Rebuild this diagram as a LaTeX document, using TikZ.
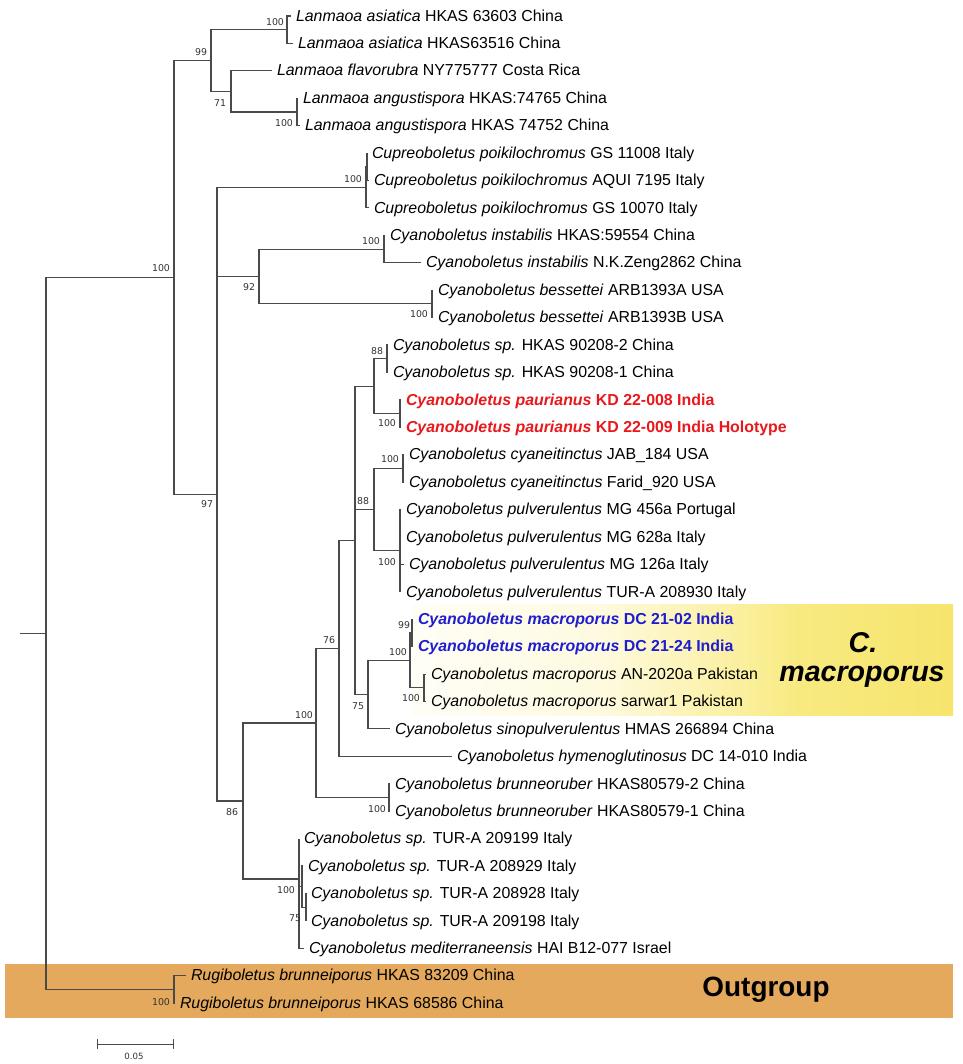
\documentclass[tikz,border=0pt]{standalone}
\usepackage{fontspec}
\setmainfont{Liberation Sans}
\newfontfamily\bsfont{DejaVu Sans}
\definecolor{brc}{HTML}{4A4A4A}
\definecolor{redt}{HTML}{E8181C}
\definecolor{bluet}{HTML}{1E1ECF}
\definecolor{outg}{HTML}{E4A95C}
\definecolor{ya}{HTML}{FFFEF6}
\definecolor{yb}{HTML}{FEFAE0}
\definecolor{yc}{HTML}{FBF1A8}
\definecolor{yd}{HTML}{F8EA80}
\definecolor{ye}{HTML}{F6E46C}
\begin{document}
\begin{tikzpicture}[x=1pt,y=-1pt,
  br/.style={draw=brc, line width=1.1pt},
  leaf/.style={anchor=west, inner xsep=5pt, inner ysep=0pt, outer sep=0pt, text height=10.4pt, text depth=0pt, font=\fontsize{15.9}{18}\selectfont, text=black},
  redleaf/.style={leaf, text=redt, font=\fontsize{15.9}{18}\selectfont\bfseries},
  blueleaf/.style={leaf, text=bluet, font=\fontsize{15.9}{18}\selectfont\bfseries},
  bs/.style={inner sep=0pt, font=\bsfont\fontsize{9.4}{10}\selectfont, text=black!80},
  big/.style={inner sep=0pt, font=\fontsize{28.6}{32}\selectfont\bfseries}
]
\useasboundingbox (0,0) rectangle (962,1064);
\fill[white] (0,0) rectangle (962,1064);
% highlight boxes
\shade[left color=ya, right color=yb] (412,604) rectangle (600,715);
\shade[left color=yb, right color=yc] (599.5,604) rectangle (720,715);
\shade[left color=yc, right color=yd] (719.5,604) rectangle (800,715);
\shade[left color=yd, right color=ye] (799.5,604) rectangle (953,715);
\fill[outg] (5,964) rectangle (953,1018);

% internal nodes
\coordinate (r0) at (20,633.4);
\coordinate (root) at (46,633.4);
\coordinate (I) at (174,277.4);
\coordinate (O) at (174,989.4);
\coordinate (L) at (211,60.6);
\coordinate (A1) at (287,29.7);
\coordinate (F71) at (231,91.4);
\coordinate (G) at (297,112.0);
\coordinate (N97) at (217,494.2);
\coordinate (Cup) at (366,187.4);
\coordinate (CupS) at (367,166.8);
\coordinate (N92) at (259,276.5);
\coordinate (Ins) at (384,249.1);
\coordinate (Bes) at (432,303.9);
\coordinate (N86) at (243,801);
\coordinate (N100b) at (316,723);
\coordinate (Bru) at (389,797.5);
\coordinate (N76) at (339,648.4);
\coordinate (N355) at (355,540.5);
\coordinate (S) at (374,386.2);
\coordinate (Sp) at (387,358.8);
\coordinate (Pau) at (400,413.6);
\coordinate (N88) at (374,509.6);
\coordinate (Cya) at (403,468.4);
\coordinate (Pul) at (400,550.7);
\coordinate (N75) at (368,694.7);
\coordinate (Mac) at (410,660.4);
\coordinate (DC) at (412,633);
\coordinate (Pak) at (424,687.8);
\coordinate (TUR) at (299,879);
\coordinate (T2) at (302,886.6);
\coordinate (T3) at (306,907.2);

% leaves
\node[leaf] (l1) at (291,16) {\textit{Lanmaoa asiatica} HKAS 63603 China};
\node[leaf] (l2) at (293,43.4) {\textit{Lanmaoa asiatica} HKAS63516 China};
\node[leaf] (l3) at (272,70.8) {\textit{Lanmaoa flavorubra} NY775777 Costa Rica};
\node[leaf] (l4) at (298,98.3) {\textit{Lanmaoa angustispora} HKAS:74765 China};
\node[leaf] (l5) at (300,125.7) {\textit{Lanmaoa angustispora} HKAS 74752 China};
\node[leaf] (l6) at (367,153.1) {\textit{Cupreoboletus poikilochromus} GS 11008 Italy};
\node[leaf] (l7) at (369,180.5) {\textit{Cupreoboletus poikilochromus} AQUI 7195 Italy};
\node[leaf] (l8) at (369,207.9) {\textit{Cupreoboletus poikilochromus} GS 10070 Italy};
\node[leaf] (l9) at (385,235.4) {\textit{Cyanoboletus instabilis} HKAS:59554 China};
\node[leaf] (l10) at (421,262.8) {\textit{Cyanoboletus instabilis} N.K.Zeng2862 China};
\node[leaf] (l11) at (433,290.2) {\textit{Cyanoboletus bessettei} ARB1393A USA};
\node[leaf] (l12) at (433,317.6) {\textit{Cyanoboletus bessettei} ARB1393B USA};
\node[leaf] (l13) at (388,345) {\textit{Cyanoboletus sp.} HKAS 90208-2 China};
\node[leaf] (l14) at (388,372.5) {\textit{Cyanoboletus sp.} HKAS 90208-1 China};
\node[redleaf] (l15) at (401,399.9) {\textit{Cyanoboletus paurianus} KD 22-008 India};
\node[redleaf] (l16) at (401,427.3) {\textit{Cyanoboletus paurianus} KD 22-009 India Holotype};
\node[leaf] (l17) at (404,454.7) {\textit{Cyanoboletus cyaneitinctus} JAB\_184 USA};
\node[leaf] (l18) at (404,482.1) {\textit{Cyanoboletus cyaneitinctus} Farid\_920 USA};
\node[leaf] (l19) at (401,509.6) {\textit{Cyanoboletus pulverulentus} MG 456a Portugal};
\node[leaf] (l20) at (401,537) {\textit{Cyanoboletus pulverulentus} MG 628a Italy};
\node[leaf] (l21) at (404,564.4) {\textit{Cyanoboletus pulverulentus} MG 126a Italy};
\node[leaf] (l22) at (401,591.8) {\textit{Cyanoboletus pulverulentus} TUR-A 208930 Italy};
\node[blueleaf] (l23) at (413,619.2) {\textit{Cyanoboletus macroporus} DC 21-02 India};
\node[blueleaf] (l24) at (413,646.7) {\textit{Cyanoboletus macroporus} DC 21-24 India};
\node[leaf] (l25) at (426,674.1) {\textit{Cyanoboletus macroporus} AN-2020a Pakistan};
\node[leaf] (l26) at (426,701.5) {\textit{Cyanoboletus macroporus} sarwar1 Pakistan};
\node[leaf] (l27) at (390,728.9) {\textit{Cyanoboletus sinopulverulentus} HMAS 266894 China};
\node[leaf] (l28) at (452,756.3) {\textit{Cyanoboletus hymenoglutinosus} DC 14-010 India};
\node[leaf] (l29) at (390,783.8) {\textit{Cyanoboletus brunneoruber} HKAS80579-2 China};
\node[leaf] (l30) at (390,811.2) {\textit{Cyanoboletus brunneoruber} HKAS80579-1 China};
\node[leaf] (l31) at (299,838.6) {\textit{Cyanoboletus sp.} TUR-A 209199 Italy};
\node[leaf] (l32) at (303,866) {\textit{Cyanoboletus sp.} TUR-A 208929 Italy};
\node[leaf] (l33) at (306,893.4) {\textit{Cyanoboletus sp.} TUR-A 208928 Italy};
\node[leaf] (l34) at (306,920.9) {\textit{Cyanoboletus sp.} TUR-A 209198 Italy};
\node[leaf] (l35) at (304,948.3) {\textit{Cyanoboletus mediterraneensis} HAI B12-077 Israel};
\node[leaf] (l36) at (186,975.7) {\textit{Rugiboletus brunneiporus} HKAS 83209 China};
\node[leaf] (l37) at (175,1003.1) {\textit{Rugiboletus brunneiporus} HKAS 68586 China};

% branches
\draw[br] (r0) -- (root);
\foreach \p/\c in {root/I, root/O, I/L, I/N97, L/A1, L/F71, A1/l1.west, A1/l2.west,
  F71/l3.west, F71/G, G/l4.west, G/l5.west,
  N97/Cup, N97/N92, N97/N86, Cup/CupS, Cup/l8.west, CupS/l6.west, CupS/l7.west,
  N92/Ins, N92/Bes, Ins/l9.west, Ins/l10.west, Bes/l11.west, Bes/l12.west,
  N86/N100b, N86/TUR, N100b/N76, N100b/Bru, Bru/l29.west, Bru/l30.west,
  N76/N355, N76/l28.west, N355/S, N355/N88, N355/N75,
  S/Sp, S/Pau, Sp/l13.west, Sp/l14.west, Pau/l15.west, Pau/l16.west,
  N88/Cya, N88/Pul, Cya/l17.west, Cya/l18.west,
  Pul/l19.west, Pul/l20.west, Pul/l21.west, Pul/l22.west,
  N75/Mac, N75/l27.west, Mac/DC, Mac/Pak, DC/l23.west, DC/l24.west, Pak/l25.west, Pak/l26.west,
  TUR/l31.west, TUR/T2, TUR/l35.west, T2/l32.west, T2/T3, T3/l33.west, T3/l34.west,
  O/l36.west, O/l37.west}
  \draw[br] (\p) |- (\c);

% bootstrap values
\node[bs] (b1) at (161,268) {100};
\node[bs] (b2) at (201,52) {99};
\node[bs] (b3) at (275,22) {100};
\node[bs] (b4) at (220,103) {71};
\node[bs] (b5) at (284,123) {100};
\node[bs] (b6) at (207,504) {97};
\node[bs] (b7) at (353,179) {100};
\node[bs] (b8) at (249,287) {92};
\node[bs] (b9) at (371,241) {100};
\node[bs] (b10) at (419,314) {100};
\node[bs] (b11) at (377,351) {88};
\node[bs] (b12) at (387,423) {100};
\node[bs] (b13) at (363,501) {88};
\node[bs] (b14) at (390,459) {100};
\node[bs] (b15) at (387,562) {100};
\node[bs] (b16) at (329,640) {76};
\node[bs] (b17) at (404,625) {99};
\node[bs] (b18) at (398,652) {100};
\node[bs] (b19) at (411,698) {100};
\node[bs] (b20) at (358,706) {75};
\node[bs] (b21) at (304,715) {100};
\node[bs] (b22) at (377,809) {100};
\node[bs] (b23) at (232,812) {86};
\node[bs] (b24) at (286,890) {100};
\node[bs] (b25) at (295,918) {75};
\node[bs] (b26) at (161,1002) {100};

% clade labels
\node[big, font=\fontsize{28.6}{32}\selectfont\bfseries\itshape] (cm1) at (863,643) {C.};
\node[big, font=\fontsize{28.6}{32}\selectfont\bfseries\itshape] (cm2) at (862,677) {macroporus};
\node[big, font=\fontsize{27.9}{32}\selectfont\bfseries] (og) at (766,990) {Outgroup};

% scale bar
\coordinate (sb1) at (97,1044);
\coordinate (sb2) at (173,1044);
\draw[br, line width=1pt] (sb1) -- (sb2);
\draw[br, line width=1pt] ([yshift=5pt]sb1) -- ([yshift=-5pt]sb1);
\draw[br, line width=1pt] ([yshift=5pt]sb2) -- ([yshift=-5pt]sb2);
\node[bs, font=\bsfont\fontsize{8.6}{10}\selectfont] (sbl) at (134,1056) {0.05};
\end{tikzpicture}
\end{document}
